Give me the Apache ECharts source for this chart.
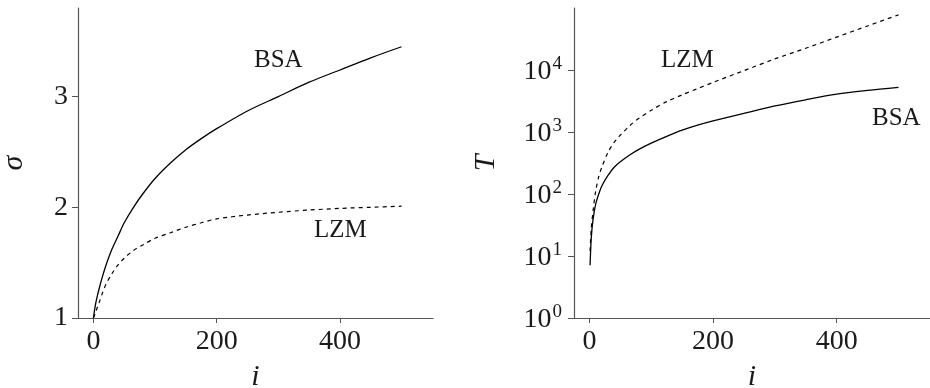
<!DOCTYPE html>
<html>
<head>
<meta charset="utf-8">
<script src="https://cdn.jsdelivr.net/npm/echarts@6/dist/echarts.min.js"></script>
<style>
  html, body { margin: 0; padding: 0; background: #fff; }
  #chart { width: 930px; height: 388px; }
</style>
</head>
<body>
<div id="chart"></div>
<script>
// sigma panel (left)
var iSigma = [0, 3, 6, 10, 15, 20, 30, 40, 50, 65, 80, 100, 125, 150, 175, 200, 250, 300, 350, 400, 450, 500]
var sigmaBSA = [1.00, 1.11, 1.19, 1.28, 1.38, 1.47, 1.62, 1.74, 1.86, 2.00, 2.12, 2.26, 2.40, 2.52, 2.62, 2.71, 2.87, 3.00, 3.13, 3.24, 3.35, 3.45]
var sigmaLZM = [1.00, 1.04, 1.09, 1.15, 1.23, 1.30, 1.40, 1.48, 1.54, 1.61, 1.66, 1.72, 1.77, 1.82, 1.86, 1.895, 1.93, 1.955, 1.975, 1.99, 2.00, 2.01]
// T panel (right, log scale)
var iT = [1, 3, 6, 10, 15, 20, 30, 40, 50, 65, 80, 100, 125, 150, 175, 200, 250, 300, 350, 400, 450, 500]
var tBSA = [7.1, 20, 40, 68, 100, 135, 200, 270, 330, 425, 525, 660, 850, 1070, 1290, 1510, 2000, 2630, 3310, 4070, 4680, 5250]
var tLZM = [12, 28, 55, 110, 190, 270, 470, 680, 890, 1260, 1660, 2240, 3090, 3980, 5010, 6310, 9770, 15100, 22400, 33900, 51300, 77600]
// ticks
var xTicks = [0, 200, 400]
var sigmaTicks = [1, 2, 3]
var tTicks = [1, 10, 100, 1000, 10000]

var FONT = "'Liberation Serif', 'Times New Roman', Times, serif"
var axisColor = '#555'
var textColor = '#1a1a1a'

function pairs(xs, ys) {
  return xs.map(function (x, k) { return [x, ys[k]] })
}

function xAxisFor(idx) {
  return {
    gridIndex: idx,
    type: 'value',
    min: -25,
    max: 551,
    name: 'i',
    nameLocation: 'middle',
    nameGap: 44,
    nameTextStyle: { fontFamily: FONT, fontStyle: 'italic', fontSize: 30, color: textColor },
    axisLine: { show: true, onZero: false, lineStyle: { color: axisColor, width: 1.2 } },
    axisTick: { show: true, length: 5, lineStyle: { color: axisColor }, customValues: xTicks },
    axisLabel: { margin: 10, fontFamily: FONT, fontSize: 28, color: textColor, customValues: xTicks },
    splitLine: { show: false }
  }
}

var chart = echarts.init(document.getElementById('chart'))
chart.setOption({
  animation: false,
  backgroundColor: '#fff',
  grid: [
    { left: 78, top: 8, width: 355, height: 310, containLabel: false, outerBoundsMode: 'none' },
    { left: 574, top: 8, width: 356, height: 310, containLabel: false, outerBoundsMode: 'none' }
  ],
  xAxis: [xAxisFor(0), xAxisFor(1)],
  yAxis: [{
    gridIndex: 0,
    type: 'value',
    min: 1,
    max: 3.8,
    name: 'σ',
    nameLocation: 'middle',
    nameGap: 49,
    nameRotate: 90,
    nameTextStyle: { fontFamily: FONT, fontStyle: 'italic', fontSize: 30, color: textColor },
    axisLine: { show: true, onZero: false, lineStyle: { color: axisColor, width: 1.2 } },
    axisTick: { show: true, length: 6, lineStyle: { color: axisColor }, customValues: sigmaTicks },
    axisLabel: { margin: 10, fontFamily: FONT, fontSize: 28, color: textColor, customValues: sigmaTicks },
    splitLine: { show: false }
  }, {
    gridIndex: 1,
    type: 'log',
    logBase: 10,
    min: 1,
    max: 100000,
    name: 'T',
    nameLocation: 'middle',
    nameGap: 73,
    nameRotate: 90,
    nameTextStyle: { fontFamily: FONT, fontStyle: 'italic', fontSize: 30, color: textColor },
    axisLine: { show: true, onZero: false, lineStyle: { color: axisColor, width: 1.2 } },
    axisTick: { show: true, length: 6, lineStyle: { color: axisColor }, customValues: tTicks },
    axisLabel: {
      margin: 12,
      customValues: tTicks,
      formatter: function (v) {
        return '{b|10}{s|' + Math.round(Math.log10(v)) + '}'
      },
      rich: {
        b: { fontFamily: FONT, fontSize: 28, color: textColor, padding: [4, 0, 0, 0] },
        s: { fontFamily: FONT, fontSize: 19, color: textColor, padding: [0, 0, 12, 1] }
      }
    },
    splitLine: { show: false },
    minorTick: { show: false }
  }],
  series: [{
    name: 'BSA',
    type: 'line',
    xAxisIndex: 0,
    yAxisIndex: 0,
    data: pairs(iSigma, sigmaBSA),
    smooth: 0.3,
    showSymbol: false,
    lineStyle: { color: '#000', width: 1.3 }
  }, {
    name: 'LZM',
    type: 'line',
    xAxisIndex: 0,
    yAxisIndex: 0,
    data: pairs(iSigma, sigmaLZM),
    smooth: 0.3,
    showSymbol: false,
    lineStyle: { color: '#000', width: 1.2, type: [4, 4] }
  }, {
    name: 'BSA',
    type: 'line',
    xAxisIndex: 1,
    yAxisIndex: 1,
    data: pairs(iT, tBSA),
    smooth: 0.3,
    showSymbol: false,
    lineStyle: { color: '#000', width: 1.3 }
  }, {
    name: 'LZM',
    type: 'line',
    xAxisIndex: 1,
    yAxisIndex: 1,
    data: pairs(iT, tLZM),
    smooth: 0.3,
    showSymbol: false,
    lineStyle: { color: '#000', width: 1.2, type: [4, 4] }
  }],
  graphic: [
    { type: 'text', left: 254, top: 48, style: { text: 'BSA', fontFamily: FONT, fontSize: 25, fill: textColor } },
    { type: 'text', left: 314, top: 218, style: { text: 'LZM', fontFamily: FONT, fontSize: 25, fill: textColor } },
    { type: 'text', left: 661, top: 48, style: { text: 'LZM', fontFamily: FONT, fontSize: 25, fill: textColor } },
    { type: 'text', left: 872, top: 106, style: { text: 'BSA', fontFamily: FONT, fontSize: 25, fill: textColor } }
  ]
})
</script>
</body>
</html>
